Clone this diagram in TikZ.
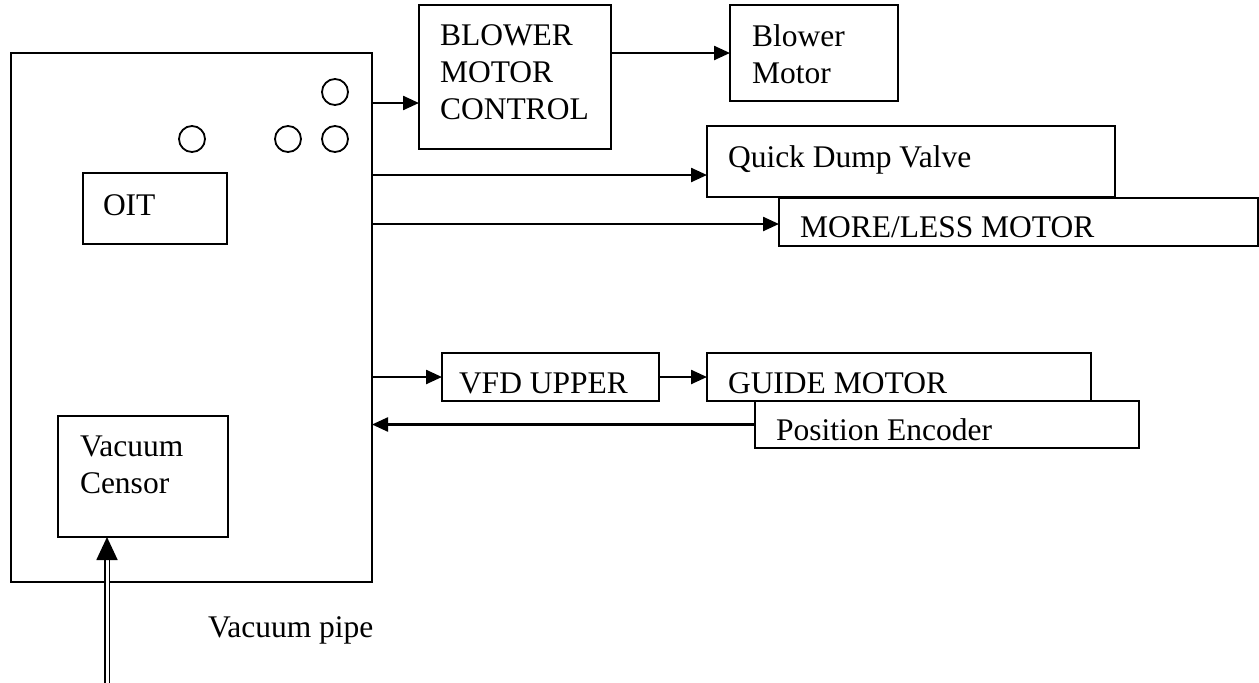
\documentclass[tikz,border=0pt]{standalone}
\usepackage{fontspec}
\setmainfont{Liberation Serif}
\usetikzlibrary{arrows.meta}
\tikzset{
  box/.style={draw, line width=2.4pt, inner sep=0pt, outer sep=0pt, anchor=north west},
  lbl/.style={inner sep=0pt, outer sep=0pt, anchor=base west, align=left,
              font=\fontsize{31.5}{37}\selectfont},
  knob/.style={circle, draw, line width=1.8pt, minimum size=26pt, inner sep=0pt},
  arr/.style={line width=2.4pt, -{Triangle[length=16pt,width=14pt]}},
  pipearr/.style={line width=1.8pt, double, double distance=3pt,
                  -{Triangle[length=23pt,width=21pt]}}
}
\begin{document}
\begin{tikzpicture}[x=1pt,y=-1pt]
\useasboundingbox (0,0) rectangle (1259,683);
% boxes
\node[box, minimum width=361pt, minimum height=529pt] (main) at (11,53) {};
\node[box, minimum width=144pt, minimum height=71pt] (oit) at (83,173) {};
\node[box, minimum width=170pt, minimum height=121pt] (vc) at (58,416) {};
\node[box, minimum width=192pt, minimum height=144pt] (bmc) at (419,5) {};
\node[box, minimum width=168pt, minimum height=96pt] (bm) at (730,5) {};
\node[box, minimum width=408pt, minimum height=71pt] (qdv) at (707,126) {};
\node[box, minimum width=479pt, minimum height=48pt] (ml) at (779,198) {};
\node[box, minimum width=217pt, minimum height=48pt] (vfd) at (442,353) {};
\node[box, minimum width=384pt, minimum height=48pt] (gm) at (707,353) {};
\node[box, minimum width=384pt, minimum height=47pt] (pe) at (755,401) {};
% knobs
\node[knob] (k1) at (335,92) {};
\node[knob] (k2) at (192,139) {};
\node[knob] (k3) at (288,139) {};
\node[knob] (k4) at (335,139) {};
% labels (base = baseline of last line)
\node[lbl] (toit) at (103,215) {OIT};
\node[lbl] (tbmc) at (440,119) {BLOWER\\MOTOR\\CONTROL};
\node[lbl] (tbm) at (752,83) {Blower\\Motor};
\node[lbl] (tqdv) at (728,167) {Quick Dump Valve};
\node[lbl] (tml) at (800,237) {MORE/LESS MOTOR};
\node[lbl] (tvfd) at (459,393) {VFD UPPER};
\node[lbl] (tgm) at (728,393) {GUIDE MOTOR};
\node[lbl] (tpe) at (776,440) {Position Encoder};
\node[lbl] (tvc) at (80,493) {Vacuum\\Censor};
\node[lbl] (tpipe) at (208,637) {Vacuum pipe};
% connectors
\draw[arr] (main.east |- 0,103) -- (bmc.west |- 0,103);
\draw[arr] (bmc.east |- 0,53) -- (bm.west |- 0,53);
\draw[arr] (main.east |- 0,175) -- (qdv.west |- 0,175);
\draw[arr] (main.east |- 0,224) -- (ml.west |- 0,224);
\draw[arr] (main.east |- vfd.west) -- (vfd.west);
\draw[arr] (vfd.east) -- (gm.west);
\draw[arr] (pe.west) -- (main.east |- pe.west);
\coordinate (pipe) at (107,683);
\draw[pipearr] (pipe) -- (pipe |- vc.south);
\end{tikzpicture}
\end{document}
